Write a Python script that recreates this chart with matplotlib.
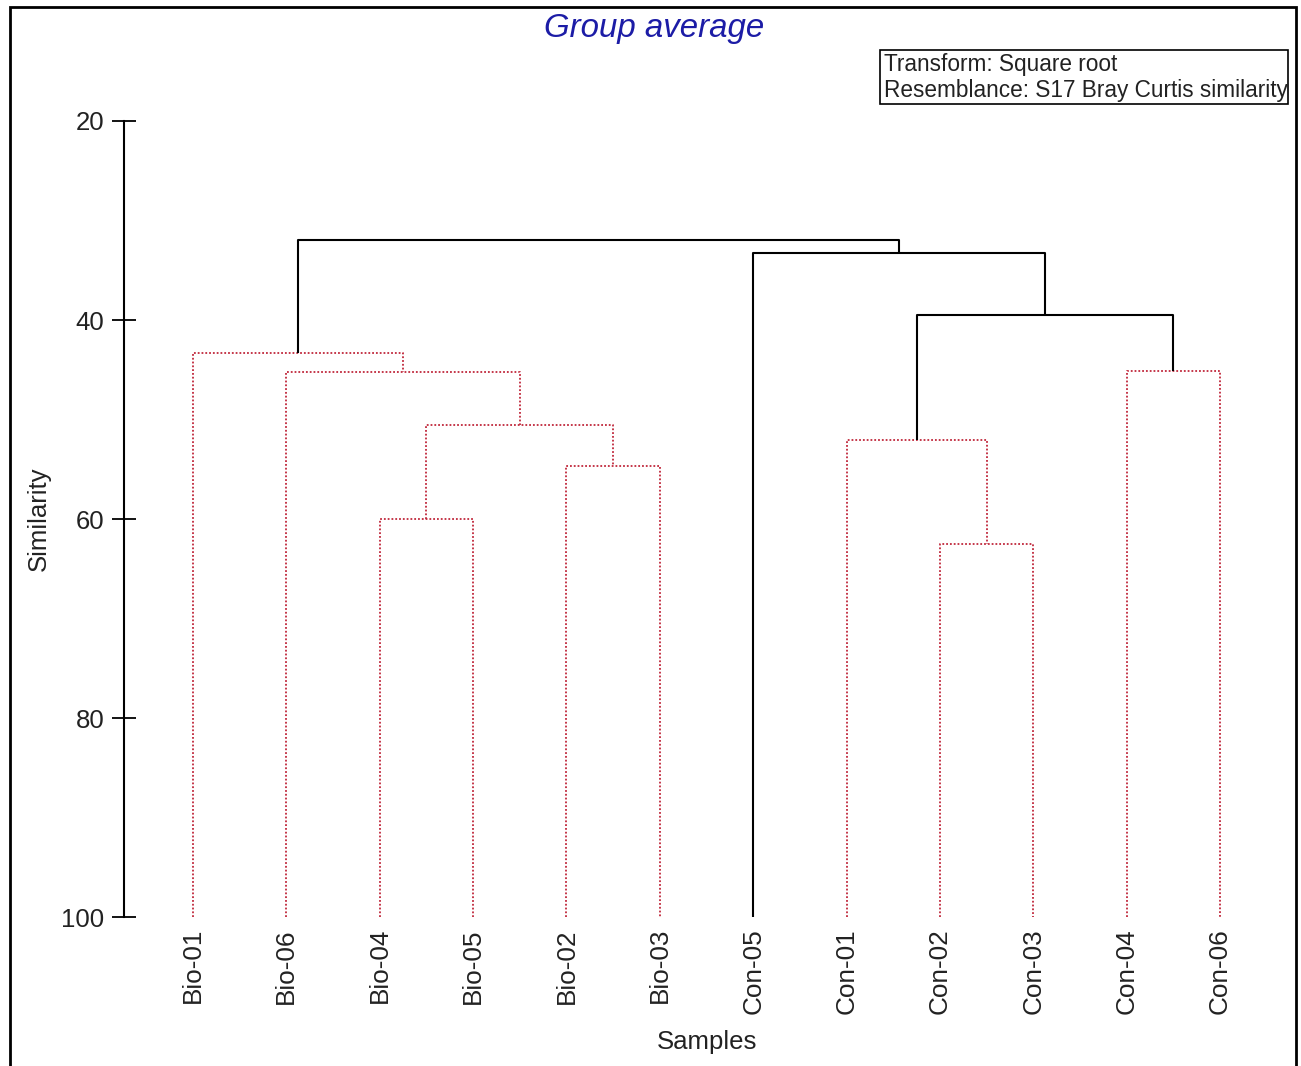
import matplotlib
matplotlib.use("Agg")
import matplotlib.pyplot as plt
from matplotlib.patches import Rectangle

plt.rcParams['font.family'] = ['Liberation Sans', 'DejaVu Sans']

# Leaf order along the x axis
samples = ['Bio-01', 'Bio-06', 'Bio-04', 'Bio-05', 'Bio-02', 'Bio-03',
           'Con-05', 'Con-01', 'Con-02', 'Con-03', 'Con-04', 'Con-06']

# Group-average merges: new cluster ids start at len(samples)
merge_left = [2, 4, 12, 1, 0, 8, 7, 10, 18, 6, 16]
merge_right = [3, 5, 13, 14, 15, 9, 17, 11, 19, 20, 21]
merge_similarity = [60.0, 54.7, 50.6, 45.2, 43.3, 62.5, 52.1, 45.1, 39.5, 33.3, 32.0]
# True = structure not significant (drawn as red dotted lines)
merge_dotted = [True, True, True, True, True, True, True, True, False, False, False]

y_ticks = [20, 40, 60, 80, 100]

W, H = 1301, 1066
fig = plt.figure(figsize=(W / 100, H / 100), dpi=100)

ax_left, ax_right, ax_top, ax_bottom = 124, 1290, 121, 917
ax = fig.add_axes([ax_left / W, 1 - ax_bottom / H,
                   (ax_right - ax_left) / W, (ax_bottom - ax_top) / H])

leaf_px0, leaf_step = 193, (1220 - 193) / 11
ax.set_xlim(-(leaf_px0 - ax_left) / leaf_step,
            11 + (ax_right - 1220) / leaf_step)
ax.set_ylim(100, 20)

# node positions
node_x = {i: float(i) for i in range(len(samples))}
node_y = {i: 100.0 for i in range(len(samples))}

red = '#c0283c'
for k, (a, b, s, dotted) in enumerate(zip(merge_left, merge_right,
                                          merge_similarity, merge_dotted)):
    nid = len(samples) + k
    xa, xb = node_x[a], node_x[b]
    if dotted:
        style = dict(color=red, lw=1.3, linestyle=(0, (1, 1.1)))
    else:
        style = dict(color='black', lw=1.5, linestyle='-')
    ax.plot([xa, xa, xb, xb], [node_y[a], s, s, node_y[b]],
            solid_capstyle='butt', **style)
    node_x[nid] = (xa + xb) / 2
    node_y[nid] = s

for side in ['top', 'right', 'bottom']:
    ax.spines[side].set_visible(False)
ax.spines['left'].set_linewidth(1.5)

ax.set_yticks(y_ticks)
ax.set_yticklabels([str(t) for t in y_ticks], fontsize=18.5, color='#222222')
ax.tick_params(axis='y', direction='inout', length=17, width=1.3, pad=5.5)

ax.set_xticks(range(len(samples)))
ax.set_xticklabels(samples, rotation=90, fontsize=18.8, color='#222222')
ax.tick_params(axis='x', length=0, pad=8)

ax.set_ylabel('Similarity', fontsize=18.5, color='#222222')
ax.yaxis.label.set_va('center')
ax.yaxis.set_label_coords(-(124 - 39) / (ax_right - ax_left), 0.5)
ax.set_xlabel('Samples', fontsize=18.5, color='#222222')
ax.xaxis.label.set_va('center')
ax.xaxis.set_label_coords(0.5, -(1042 - ax_bottom) / (ax_bottom - ax_top))

# Title
fig.text(654 / W, 1 - 29 / H, 'Group average', color='#1c1ca6',
         style='italic', fontsize=23.8, ha='center', va='center')

# Info box
fig.patches.append(Rectangle((880 / W, 1 - 104 / H), (1288 - 880) / W, 54 / H,
                             transform=fig.transFigure, fill=False,
                             edgecolor='black', lw=1.2))
fig.text(884 / W, 1 - 64 / H, 'Transform: Square root', fontsize=16.3,
         ha='left', va='center', color='#222222')
fig.text(884 / W, 1 - 91 / H, 'Resemblance: S17 Bray Curtis similarity',
         fontsize=16.3, ha='left', va='center', color='#222222')

# Outer frame
fig.patches.append(Rectangle((10 / W, -0.02), (1296 - 10) / W, 1 - 7 / H + 0.02,
                             transform=fig.transFigure, fill=False,
                             edgecolor='black', lw=2))

fig.savefig('out.png', dpi=100, facecolor='white')
